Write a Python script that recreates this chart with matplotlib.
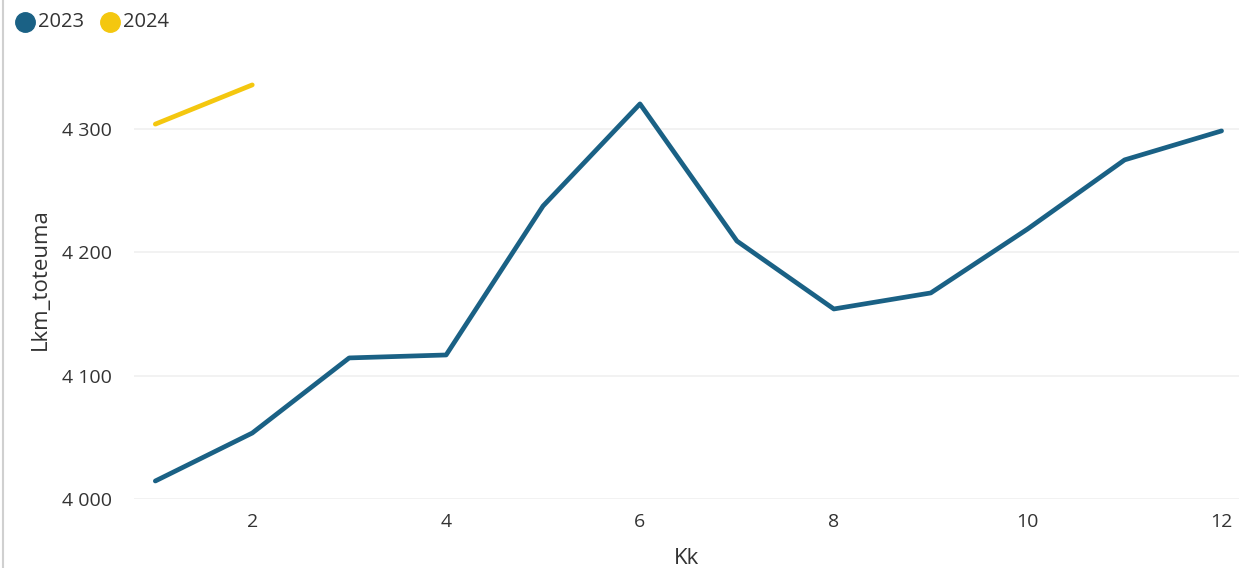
import matplotlib
matplotlib.use('Agg')
import matplotlib.pyplot as plt
from matplotlib.lines import Line2D
from matplotlib.ticker import FuncFormatter

plt.rcParams['font.family'] = ['Open Sans', 'DejaVu Sans']

# months
kk_2023 = [1, 2, 3, 4, 5, 6, 7, 8, 9, 10, 11, 12]
lkm_2023 = [4014.6, 4053.5, 4114.4, 4116.8, 4237.6, 4320.4,
            4209.2, 4154.1, 4167.1, 4219.0, 4275.0, 4298.5]
kk_2024 = [1, 2]
lkm_2024 = [4304.0, 4335.8]

yticks = [4000, 4100, 4200, 4300]
xticks = [2, 4, 6, 8, 10, 12]

c23 = '#1A6185'
c24 = '#F4C70F'
txt = '#333333'

W, H = 1239, 568
fig = plt.figure(figsize=(W / 100, H / 100), dpi=100)
ax = fig.add_axes([134 / W, 1 - 499 / H, (W - 134) / W, (499 - 60) / H])

ax.plot(kk_2023, lkm_2023, color=c23, lw=3.4, solid_capstyle='round', solid_joinstyle='round')
ax.plot(kk_2024, lkm_2024, color=c24, lw=3.4, solid_capstyle='round', solid_joinstyle='round')

ax.set_xlim(0.78, 12.18)
ax.set_ylim(4000, 4356)
ax.set_xticks(xticks)
ax.set_yticks(yticks)
ax.yaxis.set_major_formatter(FuncFormatter(lambda v, p: f'{int(v):,}'.replace(',', ' ')))

ax.grid(axis='y', color='#F0F0F0', lw=1.2)
ax.set_axisbelow(True)
for s in ax.spines.values():
    s.set_visible(False)
ax.tick_params(length=0, labelsize=14, colors=txt)
ax.tick_params(axis='x', pad=10)
ax.tick_params(axis='y', pad=16)

ax.set_xlabel('Kk', fontsize=16, color=txt, labelpad=12)
ax.set_ylabel('Lkm_toteuma', fontsize=16, color=txt, labelpad=8)

# legend
ly = 1 - 22 / H
for cx, tx, col, lab in [(25, 38, c23, '2023'), (110, 123, c24, '2024')]:
    fig.add_artist(Line2D([cx / W], [ly], marker='o', markersize=14, color=col, lw=0))
    fig.text(tx / W, ly, lab, color=txt, fontsize=14.5, va='center')

# left border
fig.add_artist(Line2D([3 / W, 3 / W], [0, 1], color='#D0D0D0', lw=1.5))

fig.savefig('out.png', dpi=100)
